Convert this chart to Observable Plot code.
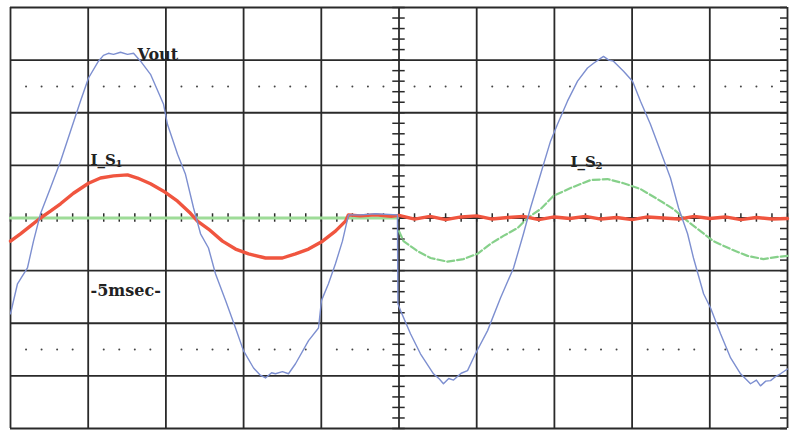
<!DOCTYPE html>
<html><head><meta charset="utf-8">
<script src="https://cdn.jsdelivr.net/npm/d3@7"></script>
<script src="https://cdn.jsdelivr.net/npm/@observablehq/plot@0.6"></script>
<style>body{margin:0;background:#fff;overflow:hidden}</style>
</head><body><div id="chart"></div>
<script>
// time in ms (5 ms/div), amplitude in divisions
const voutTime = [0,0.45,1.09,1.48,1.93,2.57,3.22,3.86,4.50,5.02,5.66,5.98,6.30,6.63,7.08,7.53,7.92,8.37,9.01,9.85,10.10,10.75,11.26,11.78,12.23,12.74,13.19,13.84,14.48,14.99,15.64,16.05,16.41,16.80,17.05,17.50,17.89,18.34,19.18,19.82,20.01,20.46,20.91,21.36,21.75,22.52,23.49,24.90,24.93,25.10,25.74,26.38,27.22,27.60,27.86,28.20,28.51,29.00,29.41,29.92,30.70,31.53,32.37,33.01,33.46,34.11,34.75,35.20,35.84,36.49,37.13,37.52,37.90,38.16,38.50,38.80,39.45,40.03,40.54,41.18,41.83,42.47,42.99,43.57,43.95,44.60,45.05,45.69,46.34,46.98,47.62,48.00,48.26,48.60,48.91,49.20,49.55,50.0];
const voutValue = [-1.82,-1.25,-0.95,-0.44,0.08,0.57,1.08,1.65,2.22,2.66,2.98,3.09,3.13,3.11,3.15,3.11,3.13,2.98,2.73,2.16,1.78,1.21,0.83,0.19,-0.30,-0.57,-1.06,-1.57,-2.09,-2.52,-2.85,-2.98,-3.04,-2.94,-2.96,-2.92,-2.96,-2.77,-2.33,-2.09,-1.57,-1.25,-0.87,-0.44,0.06,0.06,0.08,0.06,-1.63,-1.76,-2.20,-2.58,-2.96,-3.06,-3.15,-3.05,-3.08,-2.95,-2.90,-2.58,-2.14,-1.52,-0.95,-0.30,0.19,0.83,1.46,1.78,2.22,2.60,2.85,2.94,3.02,3.07,3.00,2.98,2.79,2.60,2.22,1.78,1.27,0.76,0.19,-0.30,-0.76,-1.44,-1.71,-2.20,-2.66,-2.96,-3.15,-3.08,-3.19,-3.10,-3.09,-3.02,-2.96,-2.87];

const is1Time = [0,0.64,1.29,1.93,2.57,3.22,4.05,5.02,5.79,6.63,7.53,8.17,9.01,9.85,10.75,11.58,12.03,12.74,13.64,14.48,15.32,16.41,17.50,18.34,19.18,20.08,20.91,21.56,21.75,22.5,23.5,24.5,25.0,26,27,28,29,30,31,32,33,34,35,36,37,38,39,40,41,42,43,44,45,46,47,48,49,50];
const is1Value = [-0.44,-0.30,-0.15,0,0.13,0.27,0.47,0.66,0.76,0.80,0.82,0.76,0.65,0.51,0.32,0.09,-0.06,-0.21,-0.44,-0.59,-0.68,-0.76,-0.76,-0.68,-0.59,-0.44,-0.25,-0.06,0.06,0.04,0.06,0.03,0.05,-0.02,0.03,-0.03,0.02,0.04,-0.02,0.01,0.03,-0.03,0.02,-0.01,0.03,-0.02,0.01,-0.03,0.02,0.00,-0.02,0.03,-0.01,0.02,-0.03,0.01,-0.02,-0.01];

const is2Time = [0,10,20,24.9,25.0,25.29,26.19,27.03,28.12,29.15,30.05,30.89,31.72,32.63,33.27,34.11,34.94,36.04,37.32,38.42,39.45,40.54,41.63,42.66,43.57,44.40,45.24,46.34,47.43,48.45,49.36,50.0];
const is2Value = [0,0,0,0,-0.25,-0.44,-0.63,-0.76,-0.83,-0.78,-0.68,-0.49,-0.34,-0.19,0,0.17,0.42,0.57,0.72,0.74,0.66,0.55,0.36,0.17,-0.06,-0.25,-0.44,-0.59,-0.72,-0.78,-0.74,-0.72];

const gridTimes = [0,5,10,15,20,25,30,35,40,45,50];
const gridDivs = [-4,-3,-2,-1,0,1,2,3,4];
const dottedDivs = [-2.5,2.5];
const labelTexts = ["Vout","I_S","1","I_S","2","-5msec-"];

const vout = voutTime.map((t,i)=>({t, v: voutValue[i]}));
const is1 = is1Time.map((t,i)=>({t, v: is1Value[i]}));
const is2 = is2Time.map((t,i)=>({t, v: is2Value[i]}));
const minorT = d3.range(0, 50.001, 1);
const minorD = d3.range(-4, 4.001, 0.2);
const dots = dottedDivs.flatMap(d => minorT.filter(t => t % 5 !== 0).map(t => ({t, d})));

const ink = "#2a2a2a";
const font = {fontFamily: "DejaVu Serif", fontWeight: "bold", fill: "#222", textAnchor: "start"};
const chart = Plot.plot({
  width: 791, height: 434,
  marginLeft: 10, marginRight: 4, marginTop: 7, marginBottom: 6,
  x: {domain: [0, 50], axis: null},
  y: {domain: [-4, 4], axis: null},
  style: {background: "#fff"},
  marks: [
    Plot.ruleX(gridTimes, {stroke: ink, strokeWidth: 1.8}),
    Plot.ruleY(gridDivs, {stroke: ink, strokeWidth: 1.8}),
    Plot.dot(dots, {x: "t", y: "d", r: 1, fill: "#444", stroke: null}),
    Plot.ruleX(minorT, {y1: -0.08, y2: 0.08, stroke: ink, strokeWidth: 1.5}),
    Plot.ruleY(minorD, {x1: 25 - 0.4, x2: 25 + 0.4, stroke: ink, strokeWidth: 1.5}),
    Plot.ruleY(minorD, {x1: 50 - 0.45, x2: 50, stroke: ink, strokeWidth: 1.5}),
    Plot.line(is2.filter(d => d.t <= 24.95), {x: "t", y: "v", stroke: "#9edc98", strokeWidth: 3.2}),
    Plot.line(is2.filter(d => d.t >= 25), {x: "t", y: "v", stroke: "#86d08a", strokeWidth: 2.2, strokeDasharray: "7,3"}),
    Plot.line(is1, {x: "t", y: "v", stroke: "#f0553f", strokeWidth: 3.4}),
    Plot.line(vout, {x: "t", y: "v", stroke: "#7d8fd0", strokeWidth: 1.4}),
    Plot.text([labelTexts[0]], {...font, x: 8.17, y: 3.0, text: d => d, lineAnchor: "bottom", fontSize: 16}),
    Plot.text([labelTexts[1]], {...font, x: 5.15, y: 1.0, text: d => d, lineAnchor: "bottom", fontSize: 15}),
    Plot.text([labelTexts[2]], {...font, x: 5.15, y: 1.0, dx: 25, dy: 2, text: d => d, lineAnchor: "bottom", fontSize: 10}),
    Plot.text([labelTexts[3]], {...font, x: 36.04, y: 0.97, text: d => d, lineAnchor: "bottom", fontSize: 15}),
    Plot.text([labelTexts[4]], {...font, x: 36.04, y: 0.97, dx: 25, dy: 2, text: d => d, lineAnchor: "bottom", fontSize: 10}),
    Plot.text([labelTexts[5]], {...font, x: 5.15, y: -1.385, text: d => d, lineAnchor: "middle", fontSize: 16})
  ]
});
document.getElementById("chart").appendChild(chart);
</script>
</body></html>
